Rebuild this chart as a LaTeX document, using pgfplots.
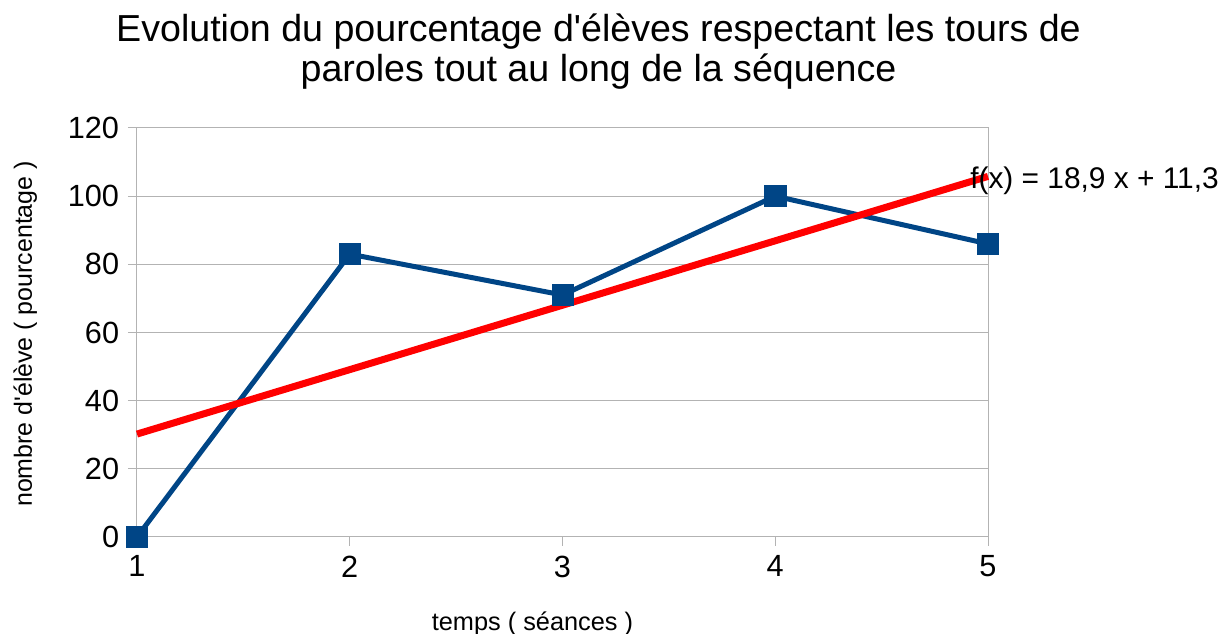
\documentclass[border=0pt]{standalone}
\usepackage{fontspec}
\setmainfont{Liberation Sans}
\usepackage{pgfplots}
\pgfplotsset{compat=1.18}
\definecolor{lineblue}{HTML}{004586}
\definecolor{gridgray}{HTML}{B3B3B3}
\begin{document}
\begin{tikzpicture}[x=0.75pt,y=0.75pt]
\useasboundingbox (-137,-97) rectangle (1086,537);
\begin{axis}[at={(0,0)}, anchor=south west, scale only axis,
  width=638.25pt, height=306.75pt,
  xmin=1, xmax=5, ymin=0, ymax=120,
  xtick={1,2,3,4,5}, ytick={0,20,40,60,80,100,120},
  axis line style={gridgray, line width=0.75pt},
  ymajorgrids, grid style={gridgray, line width=0.75pt},
  tick style={gridgray, line width=0.75pt},
  tick align=outside, major tick length=6.75pt, tick pos=left,
  ticklabel style={font=\fontsize{23}{26}\selectfont, text=black},
  /pgf/number format/assume math mode=true,
  yticklabel style={anchor=east, inner sep=0pt, xshift=-6.5pt},
  xticklabel style={anchor=north, inner sep=0pt, yshift=-7pt},
  clip=false]
\addplot[lineblue, line width=3.75pt] coordinates {(1,0) (2,83) (3,71) (4,100) (5,86)};
\addplot[red, line width=5.25pt] coordinates {(1,30.2) (5,105.8)};
\addplot[lineblue, only marks, mark=square*, mark size=7.9pt, mark options={fill=lineblue, draw=lineblue}] coordinates {(1,0) (2,83) (3,71) (4,100) (5,86)};
\end{axis}
\node[anchor=base, font=\fontsize{28.2}{32}\selectfont, inner sep=0pt] at (461.5,495) {Evolution du pourcentage d\textquotesingle élèves respectant les tours de};
\node[anchor=base, font=\fontsize{28.2}{32}\selectfont, inner sep=0pt] at (461.5,455) {paroles tout au long de la séquence};
\node[anchor=base, font=\fontsize{19}{22}\selectfont, inner sep=0pt] at (395.5,-94) {temps ( séances )};
\node[anchor=base, rotate=90, font=\fontsize{18.7}{22}\selectfont, inner sep=0pt] at (-105,203) {nombre d\textquotesingle élève ( pourcentage )};
\node[anchor=base west, font=\fontsize{22.4}{26}\selectfont, inner sep=0pt] at (833,348) {f(x) = 18,9 x + 11,3};
\end{tikzpicture}
\end{document}
